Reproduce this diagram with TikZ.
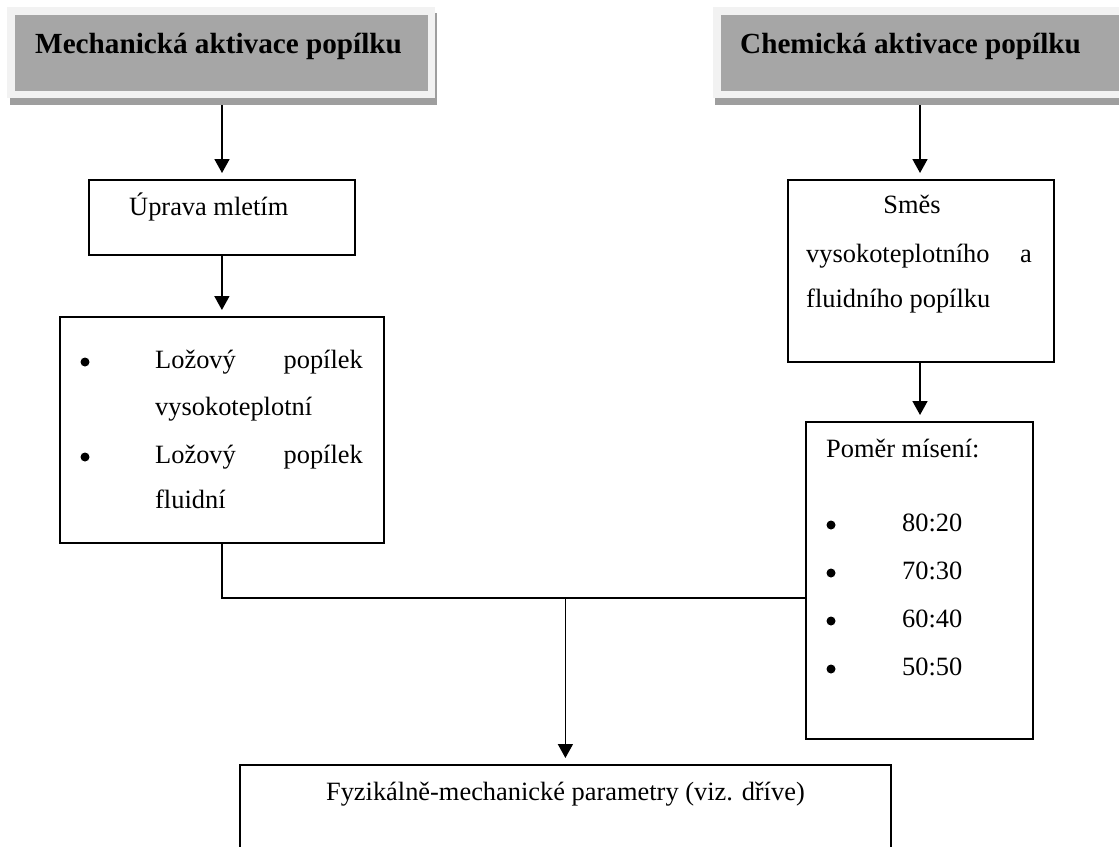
\documentclass[tikz,border=0pt]{standalone}
\usepackage{fontspec}
\setmainfont{Liberation Serif}
\usetikzlibrary{arrows.meta}
\definecolor{hdrgray}{HTML}{A6A6A6}
\definecolor{hdrlight}{HTML}{F2F2F2}
\definecolor{hdrshadow}{HTML}{9E9E9E}
\begin{document}
\begin{tikzpicture}[x=1pt,y=-1pt,
  box/.style={draw, line width=1.8pt, anchor=north west, inner sep=0pt},
  hdrbox/.style={fill=hdrgray, anchor=north west, inner sep=0pt},
  txt/.style={font=\fontsize{26.4}{30}\selectfont, inner sep=0pt, anchor=base west},
  txtr/.style={txt, anchor=base east},
  txtc/.style={txt, anchor=base},
  dot/.style={circle, fill, inner sep=0pt, minimum size=9pt},
  hdrtxt/.style={font=\fontsize{29.2}{34}\selectfont\bfseries, inner sep=0pt, anchor=base west},
  conn/.style={line width=1.7pt},
  arr/.style={conn, -{Triangle[length=14pt,width=15pt]}, shorten >=6pt}
]
\clip (0,0) rectangle (1119,846);
\fill[white] (0,0) rectangle (1119,846);

% left header
\fill[hdrshadow] (10,13) rectangle (437,105);
\fill[hdrlight] (7,7) rectangle (435,98);
\node[hdrbox, minimum width=413pt, minimum height=76pt] (hL) at (15,15) {};
\node[hdrtxt] (hLt) at (35,53) {Mechanická aktivace popílku};
\coordinate (hLb) at (222,105);

% right header
\fill[hdrshadow] (715,13) rectangle (1140,105);
\fill[hdrlight] (713,7) rectangle (1135,98);
\node[hdrbox, minimum width=420pt, minimum height=76pt] (hR) at (721,15) {};
\node[hdrtxt] (hRt) at (740,53) {Chemická aktivace popílku};
\coordinate (hRb) at (920,105);

% left column
\node[box, minimum width=266pt, minimum height=75pt] (upr) at (88,179) {};
\node[txt] (uprt) at (129,215) {Úprava mletím};

\node[box, minimum width=324pt, minimum height=226pt] (loz) at (59,316) {};
\node[dot] (lozb1) at (85,362) {};
\node[txt] (loz1a) at (155,368) {Ložový};
\node[txtr] (loz1b) at (363,368) {popílek};
\node[txt] (loz2) at (155,415) {vysokoteplotní};
\node[dot] (lozb2) at (85,457) {};
\node[txt] (loz3a) at (155,463) {Ložový};
\node[txtr] (loz3b) at (363,463) {popílek};
\node[txt] (loz4) at (155,508) {fluidní};

% right column
\node[box, minimum width=266pt, minimum height=182pt] (smes) at (787,179) {};
\node[txtc] (smes1) at (912,213) {Směs};
\node[txt] (smes2a) at (806,262) {vysokoteplotního};
\node[txtr] (smes2b) at (1032,262) {a};
\node[txt] (smes3) at (806,307) {fluidního popílku};

\node[box, minimum width=227pt, minimum height=317pt] (pomer) at (805,421) {};
\node[txt] (pomert) at (826,457) {Poměr mísení:};
\foreach \y/\v [count=\i] in {531/80:20, 579/70:30, 627/60:40, 675/50:50} {
  \node[dot] (pb\i) at (831,\y-6) {};
  \node[txt] (pv\i) at (902,\y) {\v};
}

% bottom box
\node[box, minimum width=651pt, minimum height=120pt] (bot) at (239,764) {};
\node[txtc] (bott) at (bot.north |- 0,800) {Fyzikálně-mechanické parametry (viz. dříve)};

% connectors
\draw[arr] (hLb) -- (hLb |- upr.north);
\draw[arr] (upr.south) -- (loz.north);
\draw[arr] (hRb) -- (hRb |- smes.north);
\draw[arr] (smes.south -| hRb) -- (hRb |- pomer.north);
\coordinate (jn) at (bot.north |- 0,598);
\draw[conn] (loz.south) |- (jn -| pomer.west);
\draw[arr] (jn) -- (bot.north);
\end{tikzpicture}
\end{document}
